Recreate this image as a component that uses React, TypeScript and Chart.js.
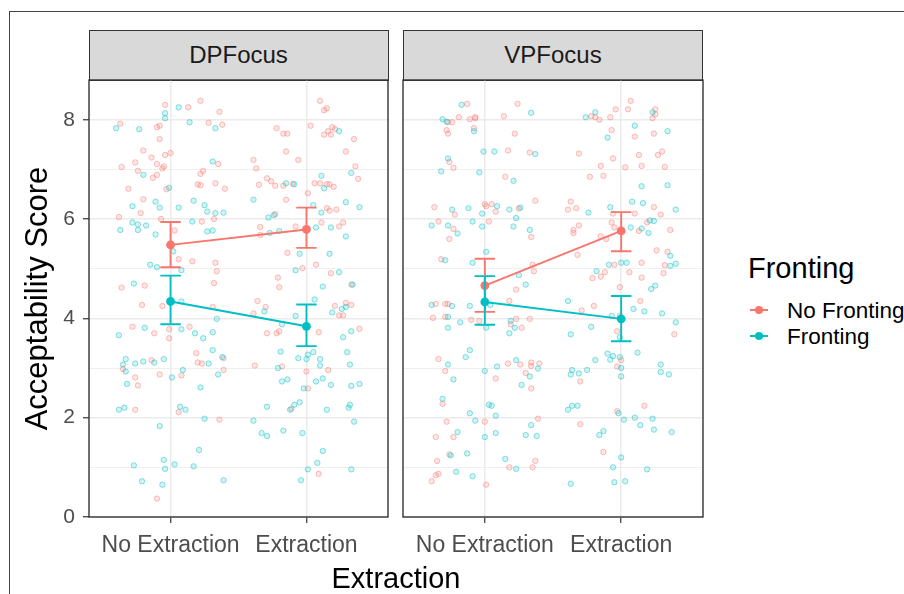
import React, { useEffect, useRef } from "react";
import { Chart, registerables } from "chart.js";
Chart.register(...registerables);

const FONT = "'Liberation Sans', Arial, Helvetica, sans-serif";

const facets = ["DPFocus", "VPFocus"];
const extractionLevels = ["No Extraction", "Extraction"];
const frontingLevels = ["No Fronting", "Fronting"];
const frontingColors = ["#F8766D", "#00BFC4"];
const frontingFills = ["rgba(248,118,109,0.18)", "rgba(0,191,196,0.18)"];
const frontingStrokes = ["rgba(248,118,109,0.45)", "rgba(0,191,196,0.45)"];
const yTicks = [0, 1, 2, 3, 4, 5, 6, 7, 8];
const yLabelTicks = [0, 2, 4, 6, 8];
const yLimits = [0, 8.8];
const xLimits = [0.4, 2.6];
const xTitle = "Extraction";
const yTitle = "Acceptability Score";
const legendTitle = "Fronting";

// summary: means and error bar bounds per extraction level
const dpMeanNoFronting = [5.48, 5.79];
const dpLowNoFronting = [5.03, 5.42];
const dpHighNoFronting = [5.94, 6.23];
const dpMeanFronting = [4.34, 3.84];
const dpLowFronting = [3.88, 3.44];
const dpHighFronting = [4.86, 4.28];
const vpMeanNoFronting = [4.66, 5.76];
const vpLowNoFronting = [4.13, 5.35];
const vpHighNoFronting = [5.2, 6.14];
const vpMeanFronting = [4.33, 3.99];
const vpLowFronting = [3.87, 3.54];
const vpHighFronting = [4.85, 4.45];

// jittered raw responses [x (jittered category position), score]
const dpNoFronting = [
  [0.96,8.30],[1.13,8.25],[1.22,8.38],[1.36,8.16],[1.28,7.94],[1.38,7.90],[0.63,7.92],[0.90,7.85],[0.92,7.88],[0.92,7.61],[0.80,7.38],[0.86,7.24],[0.74,7.14],[0.96,7.29],[1.00,7.33],[0.90,7.11],[0.95,7.06],[0.94,7.02],[0.64,7.05],[0.76,6.97],[0.87,6.83],[0.90,6.89],[1.35,7.11],[1.24,6.97],[1.22,6.91],[1.20,6.70],[1.22,6.68],[1.33,6.72],[1.40,6.61],[0.69,6.61],[0.97,6.60],[0.80,6.40],[0.78,6.12],[0.62,6.04],[0.93,6.00],[1.03,5.77],[1.23,5.95],[1.32,6.00],[1.06,5.19],[1.16,5.15],[1.33,5.12],[1.34,4.95],
  [2.10,8.38],[2.13,8.19],[2.15,8.23],[2.03,7.88],[2.19,7.85],[2.21,7.81],[2.16,7.77],[2.13,7.70],[2.18,7.70],[2.35,7.61],[1.78,7.83],[1.83,7.72],[1.86,7.72],[1.85,7.36],[1.94,7.19],[1.61,7.19],[1.63,7.02],[2.29,7.36],[2.36,7.06],[2.38,6.81],[2.10,6.72],[2.15,6.70],[2.17,6.70],[2.20,6.65],[2.06,6.72],[1.71,6.82],[1.74,6.76],[1.65,6.69],[1.77,6.67],[1.83,6.67],[1.90,6.71],[2.01,6.52],[1.85,6.39],[2.15,6.22],[2.17,6.17],[2.22,6.19],[1.77,6.10],[1.66,5.84],[1.66,5.68],[1.92,5.85],[2.11,5.93],[2.24,5.85],[2.27,5.93],[1.86,5.32],[2.07,5.08],[1.97,5.01],[2.18,4.91],[1.79,4.82],
  [0.64,4.62],[0.81,4.66],[1.32,4.71],[0.79,4.27],[0.94,4.25],[1.31,4.23],[0.72,3.83],[0.88,3.70],[0.99,3.78],[1.14,3.83],[0.99,3.60],[1.39,3.20],[1.19,3.30],[1.20,3.11],[1.23,3.09],[0.86,3.16],[0.65,2.98],[0.74,2.81],[0.76,2.65],[0.92,2.87],[1.08,2.85],[1.39,2.96],[0.74,2.16],[1.06,2.11],[1.36,1.96],[0.90,0.37],
  [1.80,4.63],[2.33,4.68],[1.64,4.35],[1.70,4.23],[1.61,4.10],[2.21,4.25],[2.24,4.06],[2.27,4.06],[2.29,4.31],[2.33,4.27],[1.71,3.70],[1.78,3.70],[1.80,3.74],[2.09,3.72],[2.39,3.79],[2.16,2.96],[1.82,3.03],[1.62,3.05],[2.00,2.93],[2.01,2.59],[1.89,2.18],[2.09,0.87]
];
const dpFronting = [
  [1.06,8.25],[0.96,8.13],[0.96,8.03],[1.14,7.95],[1.33,7.83],[0.60,7.83],[0.77,7.81],[0.80,6.89],[1.31,7.16],[0.99,6.63],[0.89,6.35],[0.72,6.26],[0.92,6.23],[1.06,6.23],[1.17,6.37],[1.25,6.28],[1.27,6.15],[1.33,6.12],[1.39,6.13],[0.72,5.93],[0.76,5.89],[0.82,5.87],[0.76,5.78],[0.63,5.78],[0.89,5.69],[1.16,5.95],[1.31,5.77],[1.27,5.75],[1.02,5.35],[0.85,5.08],[0.90,5.03],[1.08,4.97],
  [2.24,7.77],[2.33,6.93],[2.11,6.87],[2.13,6.62],[1.85,6.72],[1.91,6.70],[1.61,6.39],[2.05,6.28],[2.11,6.13],[2.29,6.34],[2.39,6.24],[1.76,6.08],[1.72,6.03],[1.73,5.72],[1.80,5.76],[2.07,5.83],[2.18,5.83],[2.29,5.65],[1.95,5.30],[2.17,5.30],[1.92,4.97],[2.24,4.93],
  [0.73,4.70],[1.08,4.34],[0.81,3.81],[1.08,3.78],[1.18,3.70],[1.31,3.72],[1.34,3.99],[0.62,3.66],[1.24,3.60],[1.31,3.36],[1.38,3.22],[1.28,3.09],[0.67,3.18],[0.65,3.07],[0.74,3.09],[0.80,3.13],[0.88,3.11],[0.95,3.18],[0.67,2.93],[0.68,2.68],[1.01,2.81],[1.09,2.96],[1.35,2.87],[1.22,2.61],[0.62,2.16],[0.66,2.20],[1.07,2.22],[1.11,2.16],[1.25,1.98],[0.92,1.83],[1.21,1.35],[0.95,1.15],[0.73,1.04],[0.96,0.97],[1.03,1.06],[1.17,1.02],[0.79,0.72],[0.94,0.65],[1.39,0.74],
  [2.12,4.64],[2.34,4.68],[1.69,4.14],[2.06,4.38],[2.19,4.12],[2.26,4.19],[2.29,4.23],[1.92,4.05],[1.82,3.88],[2.33,3.74],[2.27,3.62],[1.81,3.33],[2.05,3.32],[2.01,3.27],[1.94,3.20],[2.00,3.18],[2.10,3.18],[2.10,3.05],[2.30,3.32],[2.32,3.07],[1.79,3.00],[1.82,2.73],[1.86,2.77],[1.98,2.59],[2.07,2.73],[2.12,2.79],[2.18,2.66],[2.33,2.64],[2.39,2.68],[1.71,2.22],[1.88,2.16],[1.91,2.26],[1.95,2.31],[2.15,2.16],[2.31,2.20],[2.32,2.26],[2.35,1.92],[1.61,1.94],[1.67,1.69],[1.71,1.63],[1.83,1.74],[1.97,1.69],[2.12,1.33],[2.08,1.09],[2.01,0.96],[1.96,0.74],[2.33,0.96]
];
const vpNoFronting = [
  [0.87,8.32],[1.24,8.32],[1.14,8.07],[0.81,8.05],[0.89,8.01],[0.93,8.05],[0.93,8.03],[0.73,7.95],[0.76,7.95],[0.92,7.83],[0.72,7.79],[0.73,7.72],[1.22,7.72],[1.17,7.38],[1.33,7.34],[0.74,7.15],[0.77,7.03],[1.15,6.85],[1.37,6.37],[1.00,6.30],[1.05,6.30],[1.01,6.26],[1.08,6.15],[1.25,6.21],[0.63,6.24],[0.78,6.09],[0.66,5.95],[1.03,5.95],[0.77,5.80],[1.34,5.64],[0.74,5.60],[0.68,5.19],[1.35,5.08],[1.36,4.95],
  [2.07,8.38],[2.05,8.21],[1.96,8.21],[1.78,8.07],[1.81,8.05],[1.84,8.00],[1.92,8.05],[2.25,8.21],[2.25,8.11],[2.23,8.03],[1.93,7.79],[2.10,7.66],[2.24,7.72],[1.69,7.32],[1.94,7.22],[2.13,7.29],[2.27,7.29],[2.30,7.36],[1.85,7.07],[2.03,7.04],[2.15,7.07],[2.32,7.05],[1.77,6.85],[1.87,6.87],[1.63,6.35],[1.61,6.19],[1.67,6.22],[1.94,6.11],[2.24,6.24],[2.10,6.11],[2.29,6.09],[2.19,5.93],[2.13,5.76],[2.36,5.78],[1.93,5.93],[1.95,5.83],[1.69,5.87],[1.65,5.78],[1.65,5.72],[1.85,5.65],[1.89,5.60],[2.26,5.37],[2.34,5.34],[2.32,5.07],[1.68,5.28],[1.95,5.08],[2.15,5.12],[1.88,4.93],[1.85,4.84],[1.79,4.81],[2.06,4.93],[2.15,4.82],[2.31,4.91],
  [1.23,4.58],[0.64,4.29],[0.71,4.29],[0.73,4.29],[0.62,4.01],[0.71,4.03],[0.90,3.97],[0.96,3.95],[1.18,4.35],[1.19,3.88],[1.23,3.99],[1.27,3.81],[1.33,3.99],[0.66,3.18],[0.71,2.94],[1.08,2.79],[1.17,3.09],[1.26,3.07],[1.34,3.11],[1.34,3.04],[1.40,3.09],[1.30,2.90],[1.34,2.59],[0.69,2.28],[0.72,1.92],[1.00,1.92],[1.39,1.98],[0.64,1.61],[0.77,1.61],[0.74,1.26],[0.65,1.13],[1.37,1.13],[1.18,1.00],[1.35,1.00],[0.66,0.87],[0.64,0.84],[0.61,0.72],[1.01,0.65],
  [1.99,4.63],[2.14,4.35],[1.80,4.25],[1.71,4.16],[1.99,4.05],[2.39,3.68],[1.97,3.74],[2.00,3.16],[1.97,3.03],[1.70,2.73],[2.17,2.24],[1.97,2.13],[1.70,1.87],[1.87,1.31]
];
const vpFronting = [
  [0.83,8.30],[1.34,8.14],[0.69,8.01],[0.72,7.96],[0.92,7.77],[0.99,7.36],[1.07,7.36],[1.37,7.31],[0.73,7.22],[0.68,6.96],[0.96,6.94],[1.21,6.77],[1.09,6.26],[1.18,6.19],[1.26,6.23],[0.88,6.22],[0.76,6.19],[0.98,6.11],[1.23,6.02],[0.91,5.95],[0.61,5.87],[0.73,5.87],[0.98,5.85],[1.21,5.85],[1.33,5.78],[0.80,5.71],[1.01,5.34],[0.71,5.17],[0.91,5.12],[1.25,4.87],
  [1.81,8.15],[1.74,8.05],[2.23,8.15],[2.10,7.88],[1.90,7.64],[2.34,7.77],[2.15,6.66],[2.34,6.68],[1.76,6.13],[1.92,6.24],[2.08,6.35],[2.16,6.32],[2.40,6.19],[2.21,5.97],[2.24,5.96],[2.15,5.81],[2.20,5.72],[2.07,5.83],[2.36,5.26],[2.40,5.10],[2.36,5.06],[1.91,5.08],[2.00,5.12],[2.04,5.12],[1.82,4.95],
  [1.30,4.68],[0.61,4.27],[0.76,4.25],[0.89,4.25],[0.73,4.03],[0.73,3.81],[0.82,3.92],[1.01,3.81],[1.04,4.27],[1.19,3.95],[1.22,3.81],[1.18,3.70],[0.89,3.36],[0.86,3.22],[0.73,3.07],[0.77,2.77],[1.00,2.94],[1.09,3.03],[1.23,3.16],[1.39,2.99],[1.33,2.83],[1.27,2.66],[0.69,2.38],[1.03,2.26],[1.05,2.24],[0.89,2.09],[1.08,2.04],[0.93,1.94],[1.34,1.85],[0.80,1.71],[1.00,1.61],[1.08,1.69],[1.30,1.65],[1.38,1.63],[0.75,1.24],[0.87,1.28],[1.15,1.17],[1.23,0.97],[0.79,0.91],[0.91,0.82],
  [2.22,4.59],[2.25,4.66],[1.61,4.35],[2.09,4.19],[2.17,4.14],[2.30,4.10],[1.93,4.05],[2.40,3.92],[1.78,3.83],[1.63,3.68],[1.99,3.62],[2.12,3.31],[1.90,3.29],[1.94,3.24],[1.92,3.17],[1.81,3.16],[1.99,3.22],[2.00,3.00],[2.00,2.83],[1.64,2.96],[1.63,2.87],[1.69,2.89],[1.75,2.96],[2.29,3.07],[2.29,2.92],[2.35,2.87],[1.61,2.16],[1.64,2.24],[1.68,2.24],[1.98,2.09],[2.02,1.96],[2.10,2.00],[2.23,1.98],[2.14,1.85],[2.24,1.76],[2.37,1.71],[1.87,1.73],[1.84,1.65],[2.00,1.20],[1.94,1.00],[2.19,0.96],[1.63,0.67],[1.95,0.70],[2.03,0.72]
];

const CAP = 0.075;

const toPts = (arr: number[][]) => arr.map(([x, y]) => ({ x, y }));
const meanPts = (means: number[]) => means.map((y, i) => ({ x: i + 1, y }));
const errPts = (low: number[], high: number[]) => {
  const out: { x: number; y: number | null }[] = [];
  low.forEach((lo, i) => {
    const c = i + 1;
    const hi = high[i];
    out.push(
      { x: c - CAP, y: hi }, { x: c + CAP, y: hi }, { x: c, y: null },
      { x: c, y: hi }, { x: c, y: lo }, { x: c, y: null },
      { x: c - CAP, y: lo }, { x: c + CAP, y: lo }, { x: c, y: null }
    );
  });
  return out;
};

const panelBorder = {
  id: "panelBorder",
  afterDatasetsDraw(chart: any) {
    const { ctx, chartArea: a } = chart;
    ctx.save();
    ctx.strokeStyle = "#333333";
    ctx.lineWidth = 1.4;
    ctx.strokeRect(a.left, a.top, a.right - a.left, a.bottom - a.top);
    ctx.restore();
  },
};

function buildConfig(p: {
  noFr: number[][]; fr: number[][];
  meanNoFr: number[]; lowNoFr: number[]; highNoFr: number[];
  meanFr: number[]; lowFr: number[]; highFr: number[];
  first: boolean;
}): any {
  const jitter = (data: number[][], k: number, order: number) => ({
    type: "scatter",
    label: frontingLevels[k] + " raw",
    data: toPts(data),
    backgroundColor: frontingFills[k],
    borderColor: frontingStrokes[k],
    borderWidth: 1,
    pointRadius: 2.7,
    showLine: false,
    order,
  });
  const meanLine = (means: number[], k: number, order: number) => ({
    type: "line",
    label: frontingLevels[k],
    data: meanPts(means),
    borderColor: frontingColors[k],
    backgroundColor: frontingColors[k],
    borderWidth: 1.9,
    pointRadius: 4.4,
    pointBorderWidth: 0,
    tension: 0,
    order,
  });
  const errLine = (low: number[], high: number[], k: number, order: number) => ({
    type: "line",
    label: frontingLevels[k] + " se",
    data: errPts(low, high),
    borderColor: frontingColors[k],
    borderWidth: 1.9,
    pointRadius: 0,
    spanGaps: false,
    tension: 0,
    order,
  });
  return {
    type: "scatter",
    data: {
      datasets: [
        jitter(p.noFr, 0, 10),
        jitter(p.fr, 1, 9),
        meanLine(p.meanNoFr, 0, 4),
        errLine(p.lowNoFr, p.highNoFr, 0, 3),
        meanLine(p.meanFr, 1, 2),
        errLine(p.lowFr, p.highFr, 1, 1),
      ],
    },
    options: {
      responsive: false,
      animation: false,
      events: [],
      layout: { padding: { left: 0, top: 10, right: p.first ? 7 : 8, bottom: 0 } },
      plugins: { legend: { display: false }, tooltip: { enabled: false }, title: { display: false } },
      scales: {
        x: {
          type: "linear",
          min: xLimits[0],
          max: xLimits[1],
          afterBuildTicks: (scale: any) => {
            scale.ticks = extractionLevels.map((_, i) => ({ value: i + 1 }));
          },
          afterFit: (scale: any) => {
            scale.height = 53;
            scale.paddingLeft = 0;
            scale.paddingRight = 0;
          },
          ticks: {
            autoSkip: false,
            maxRotation: 0,
            minRotation: 0,
            padding: 9,
            color: "#4D4D4D",
            font: { family: FONT, size: 23 },
            callback: (v: number) => extractionLevels[Math.round(v) - 1] ?? "",
          },
          grid: {
            color: "#EBEBEB",
            lineWidth: 1.5,
            drawTicks: true,
            tickLength: 6,
            tickColor: "#333333",
            tickWidth: 1.2,
          },
          border: { display: false },
        },
        y: {
          type: "linear",
          min: yLimits[0],
          max: yLimits[1],
          afterBuildTicks: (scale: any) => {
            scale.ticks = yTicks.map((v) => ({ value: v }));
          },
          afterFit: (scale: any) => {
            scale.width = p.first ? 89 : 7;
            scale.paddingTop = 0;
            scale.paddingBottom = 0;
          },
          title: p.first
            ? {
                display: true,
                text: yTitle,
                color: "#000000",
                font: { family: FONT, size: 31 },
                padding: { top: 20, bottom: 0 },
              }
            : { display: false },
          ticks: {
            display: p.first,
            autoSkip: false,
            padding: 8,
            color: "#4D4D4D",
            font: { family: FONT, size: 21 },
            callback: (v: number) => (yLabelTicks.includes(v) ? String(v) : ""),
          },
          grid: {
            color: "#EBEBEB",
            lineWidth: (c: any) => (yLabelTicks.includes(c.tick?.value) ? 1.5 : 0.8),
            drawTicks: p.first,
            tickLength: 6,
            tickColor: (c: any) => (yLabelTicks.includes(c.tick?.value) ? "#333333" : "rgba(0,0,0,0)"),
            tickWidth: 1.2,
          },
          border: { display: false },
        },
      },
    },
    plugins: [panelBorder],
  };
}

const stripStyle = (left: number): React.CSSProperties => ({
  position: "absolute",
  left,
  top: 30,
  width: 300,
  height: 50.5,
  boxSizing: "border-box",
  background: "#D9D9D9",
  border: "1.4px solid #333333",
  display: "flex",
  alignItems: "center",
  justifyContent: "center",
  fontFamily: FONT,
  fontSize: 24,
  color: "#1A1A1A",
});

export default function App() {
  const ref1 = useRef<HTMLCanvasElement>(null);
  const ref2 = useRef<HTMLCanvasElement>(null);

  useEffect(() => {
    const c1 = new Chart(
      ref1.current as HTMLCanvasElement,
      buildConfig({
        noFr: dpNoFronting, fr: dpFronting,
        meanNoFr: dpMeanNoFronting, lowNoFr: dpLowNoFronting, highNoFr: dpHighNoFronting,
        meanFr: dpMeanFronting, lowFr: dpLowFronting, highFr: dpHighFronting,
        first: true,
      })
    );
    const c2 = new Chart(
      ref2.current as HTMLCanvasElement,
      buildConfig({
        noFr: vpNoFronting, fr: vpFronting,
        meanNoFr: vpMeanNoFronting, lowNoFr: vpLowNoFronting, highNoFr: vpHighNoFronting,
        meanFr: vpMeanFronting, lowFr: vpLowFronting, highFr: vpHighFronting,
        first: false,
      })
    );
    return () => {
      c1.destroy();
      c2.destroy();
    };
  }, []);

  return (
    <div
      style={{
        position: "absolute",
        left: 0,
        top: 0,
        width: 904,
        height: 594,
        overflow: "hidden",
        background: "#FFFFFF",
        fontFamily: FONT,
      }}
    >
      <div
        style={{
          position: "absolute",
          left: 9,
          top: 11,
          width: 900,
          height: 600,
          borderTop: "1px solid #444444",
          borderLeft: "1px solid #444444",
        }}
      />
      <div style={stripStyle(88.5)}>{facets[0]}</div>
      <div style={stripStyle(403)}>{facets[1]}</div>
      <canvas
        ref={ref1}
        width={395}
        height={500}
        style={{ position: "absolute", left: 0, top: 70, width: 395, height: 500 }}
      />
      <canvas
        ref={ref2}
        width={315}
        height={500}
        style={{ position: "absolute", left: 396, top: 70, width: 315, height: 500 }}
      />
      <div
        style={{
          position: "absolute",
          left: 246,
          width: 300,
          top: 563.5,
          textAlign: "center",
          fontSize: 29,
          lineHeight: "29px",
          color: "#000000",
        }}
      >
        {xTitle}
      </div>
      <div
        style={{
          position: "absolute",
          left: 748,
          top: 253.5,
          fontSize: 29,
          lineHeight: "29px",
          color: "#000000",
          whiteSpace: "nowrap",
        }}
      >
        {legendTitle}
      </div>
      {frontingLevels.map((lab, i) => (
        <div key={lab}>
          <div
            style={{
              position: "absolute",
              left: 750,
              top: 310 + i * 26 - 1,
              width: 18,
              height: 2,
              background: frontingColors[i],
            }}
          />
          <div
            style={{
              position: "absolute",
              left: 755,
              top: 310 + i * 26 - 4,
              width: 8,
              height: 8,
              borderRadius: 4,
              background: frontingColors[i],
            }}
          />
          <div
            style={{
              position: "absolute",
              left: 787,
              top: 300 + i * 26,
              fontSize: 22.5,
              lineHeight: "22.5px",
              color: "#000000",
              whiteSpace: "nowrap",
            }}
          >
            {lab}
          </div>
        </div>
      ))}
    </div>
  );
}
